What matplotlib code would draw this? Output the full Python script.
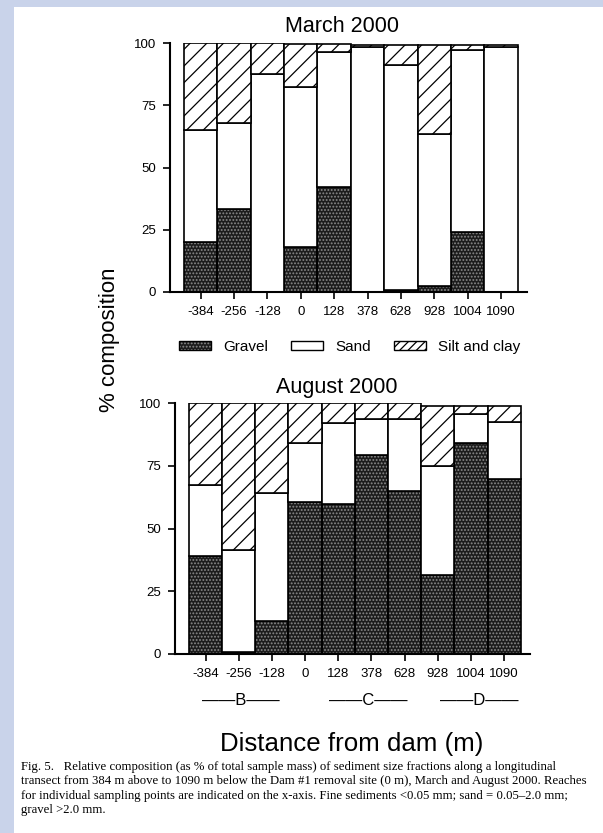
import matplotlib
matplotlib.use('Agg')
import matplotlib.pyplot as plt
from matplotlib.patches import Patch, Rectangle
import numpy as np

plt.rcParams['font.family'] = ['Liberation Sans', 'DejaVu Sans']
plt.rcParams['hatch.linewidth'] = 0.9

# sampling points (m from dam)
sites = ['-384', '-256', '-128', '0', '128', '378', '628', '928', '1004', '1090']

# March 2000, % composition
mar_gravel = [20, 33.5, 0, 18, 42, 0, 1, 2.5, 24, 0]
mar_sand = [45, 34.5, 87.5, 64.5, 54.5, 98.3, 90.3, 60.8, 73, 98.2]
mar_silt = [35, 32, 12.5, 17, 3, 0.8, 7.7, 35.7, 2, 0.8]

# August 2000, % composition
aug_gravel = [39, 0.8, 13, 60.5, 60, 79.5, 65, 31.5, 84.3, 70]
aug_sand = [28.3, 40.8, 51.2, 23.5, 32.3, 14.3, 28.7, 43.5, 11.4, 22.7]
aug_silt = [32.7, 58.4, 35.8, 16, 7.7, 6.2, 6.3, 24, 3.3, 6.3]

reaches = ['B', 'C', 'D']

fig = plt.figure(figsize=(6.03, 8.33), dpi=100)
fig.patch.set_facecolor('#c9d3ea')
fig.patches.append(Rectangle((14/603, 0), 1, 1 - 7/833, transform=fig.transFigure,
                             facecolor='white', edgecolor='none', zorder=-10))

GRAV_FACE = '#1c1c1c'
GRAV_DOTS = '#8a8a8a'


def draw_panel(ax, gravel, sand, silt):
    x = np.arange(len(sites))
    g = np.array(gravel)
    s = np.array(sand)
    c = np.array(silt)
    # gravel: dark fill with light dots, outline drawn on top
    ax.bar(x, g, width=1.0, color=GRAV_FACE, hatch='.....', edgecolor=GRAV_DOTS, linewidth=0)
    ax.bar(x, g, width=1.0, fill=False, edgecolor='black', linewidth=1.2)
    ax.bar(x, s, width=1.0, bottom=g, color='white', edgecolor='black', linewidth=1.2)
    ax.bar(x, c, width=1.0, bottom=g + s, color='white', edgecolor='black', hatch='//',
           linewidth=1.2)
    ax.set_xlim(-0.92, 9.78)
    ax.set_ylim(0, 100)
    ax.set_xticks(x)
    ax.set_xticklabels(sites)
    ax.set_yticks([0, 25, 50, 75, 100])
    for sp in ['top', 'right']:
        ax.spines[sp].set_visible(False)
    for sp in ['left', 'bottom']:
        ax.spines[sp].set_linewidth(1.5)
    ax.tick_params(direction='out', length=5, width=1.2, labelsize=9.5, pad=5)
    ax.set_facecolor('none')


ax1 = fig.add_axes([170/603, 1 - 292/833, 357/603, 249/833])
draw_panel(ax1, mar_gravel, mar_sand, mar_silt)
ax2 = fig.add_axes([175/603, 1 - 654/833, 355/603, 250.7/833])
draw_panel(ax2, aug_gravel, aug_sand, aug_silt)

fig.text(342/603, 1 - 27/833, 'March 2000', ha='center', va='center', fontsize=15.5)
fig.text(337/603, 1 - 387/833, 'August 2000', ha='center', va='center', fontsize=15.5)
fig.text(110/603, 1 - 340/833, '% composition', ha='center', va='center',
         rotation=90, fontsize=16)
fig.text(352/603, 1 - 744/833, 'Distance from dam (m)', ha='center', va='center',
         fontsize=18.6)

# legend
h_grav = (Patch(facecolor=GRAV_FACE, hatch='.....', edgecolor=GRAV_DOTS, linewidth=0),
          Patch(fill=False, edgecolor='black', linewidth=1.0))
h_sand = Patch(facecolor='white', edgecolor='black', linewidth=1.0)
h_silt = Patch(facecolor='white', edgecolor='black', hatch='////', linewidth=1.0)
fig.legend([h_grav, h_sand, h_silt], ['Gravel', 'Sand', 'Silt and clay'],
           loc='center', bbox_to_anchor=(350/603, 1 - 347/833), ncol=3, frameon=False,
           fontsize=11, handlelength=2.1, handleheight=0.45, handletextpad=0.8,
           columnspacing=1.5)

# reach labels under August x-axis
for lab, xpos in zip(reaches, [1.05, 4.9, 8.25]):
    ax2.text(xpos, -0.185, '\u2014\u2014' + lab + '\u2014\u2014', transform=ax2.get_xaxis_transform(),
             ha='center', va='center', fontsize=12)

caption = ('Fig. 5.   Relative composition (as % of total sample mass) of sediment size fractions along a longitudinal\n'
           'transect from 384 m above to 1090 m below the Dam #1 removal site (0 m), March and August 2000. Reaches\n'
           'for individual sampling points are indicated on the x-axis. Fine sediments <0.05 mm; sand = 0.05\u20132.0 mm;\n'
           'gravel >2.0 mm.')
fig.text(21/603, 1 - 761/833, caption, ha='left', va='top', fontsize=9.2,
         family=['Liberation Serif', 'DejaVu Serif'], linespacing=1.25)

fig.savefig('out.png', dpi=100, facecolor=fig.get_facecolor())
